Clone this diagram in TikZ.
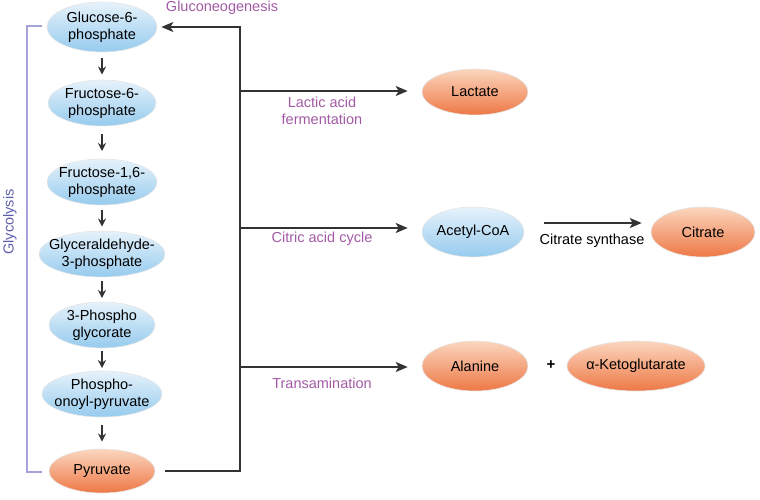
\documentclass[tikz,border=0pt]{standalone}
\usepackage{fontspec}
\setmainfont{Liberation Sans}
\usetikzlibrary{shapes.geometric,arrows.meta,calc}
\definecolor{labc}{HTML}{A35AA6}
\definecolor{glyc}{HTML}{5E5EAE}
\definecolor{brk}{HTML}{A4A4DA}
\definecolor{lnc}{HTML}{333333}
\definecolor{btop}{HTML}{E6F2FB}
\definecolor{bbot}{HTML}{96CBEE}
\definecolor{otop}{HTML}{FBD6BE}
\definecolor{obot}{HTML}{EE7846}
\tikzset{
  met/.style={ellipse, inner xsep=-30pt, inner ysep=-14pt, minimum width=#1, minimum height=46pt,
    align=center, font=\fontsize{14.5}{17}\selectfont, draw=black!10, line width=0.6pt},
  bluefill/.style={top color=btop, bottom color=bbot},
  orangefill/.style={top color=otop, bottom color=obot},
  sarrow/.style={draw=lnc, line width=1.4pt, -{Stealth[length=8pt,width=8pt]}},
  mainarr/.style={draw=lnc, line width=2pt, -{Stealth[length=12pt,width=10pt,inset=3pt]}},
  plab/.style={text=labc, font=\fontsize{14.5}{17}\selectfont, align=center},
  txt/.style={font=\fontsize{14.5}{17}\selectfont, text=black}
}
\newcommand{\smallarrow}[2]{%
  \coordinate (m#1#2) at ($(#1.south)!0.5!(#2.north)$);
  \draw[sarrow] ($(m#1#2)+(0,-8.5)$) -- ($(m#1#2)+(0,8.5)$);}
\begin{document}
\begin{tikzpicture}[x=1pt,y=-1pt]
\useasboundingbox (0,0) rectangle (760,499);
% glycolysis column
\node[met=110pt, bluefill, minimum height=50pt] (g1) at (102,27) {Glucose-6-\\phosphate};
\node[met=108pt, bluefill] (g2) at (102,103) {Fructose-6-\\phosphate};
\node[met=110pt, bluefill] (g3) at (102,182) {Fructose-1,6-\\phosphate};
\node[met=126pt, bluefill] (g4) at (102,254) {Glyceraldehyde-\\3-phosphate};
\node[met=106pt, bluefill] (g5) at (102,325) {3-Phospho\\glycorate};
\node[met=120pt, bluefill] (g6) at (102,394) {Phospho-\\onoyl-pyruvate};
\node[met=106pt, orangefill, minimum height=44pt] (pyr) at (102,471) {Pyruvate};
\smallarrow{g1}{g2}
\smallarrow{g2}{g3}
\smallarrow{g3}{g4}
\smallarrow{g4}{g5}
\smallarrow{g5}{g6}
\smallarrow{g6}{pyr}
% glycolysis bracket
\coordinate (bt1) at (42,26);
\coordinate (bt0) at (27,26);
\coordinate (bb0) at (27,472);
\coordinate (bb1) at (42,472);
\draw[brk, line width=1.5pt] (bt1) -- (bt0) -- (bb0) -- (bb1);
\node[text=glyc, font=\fontsize{14.5}{17}\selectfont, rotate=90] (glab) at (10,222) {Glycolysis};
% main connector
\coordinate (jb) at (240,471);
\coordinate (jt) at (240,27);
\draw[mainarr, shorten <=10pt, shorten >=4pt] (pyr.east) -- (jb) -- (jt) -- (g1.east);
% right side nodes
\node[met=106pt, orangefill, minimum height=46pt] (lac) at (475,92) {Lactate};
\node[met=102pt, bluefill, minimum height=50pt] (acc) at (473,232) {Acetyl-CoA};
\node[met=104pt, orangefill, minimum height=50pt] (cit) at (703,232) {Citrate};
\node[met=106pt, orangefill, minimum height=50pt] (ala) at (475,366) {Alanine};
\node[met=138pt, orangefill, minimum height=50pt] (akg) at (636,366) {α-Ketoglutarate};
\coordinate (j1) at (240,91);
\coordinate (j2) at (240,228);
\coordinate (j3) at (240,367);
\draw[mainarr, shorten >=14pt] (j1) -- (lac.west |- j1);
\draw[mainarr, shorten >=14pt] (j2) -- (acc.west |- j2);
\draw[mainarr, shorten >=14pt] (j3) -- (ala.west |- j3);
\draw[mainarr, line width=1.8pt, shorten <=20pt, shorten >=9pt] (acc.east |- 0,223) -- (cit.west |- 0,223);
\node[txt] (cs) at (592,241) {Citrate synthase};
\node[txt, font=\bfseries\fontsize{15}{16}\selectfont] (plus) at (551,365) {+};
% labels
\node[plab] (lgn) at (222,8) {Gluconeogenesis};
\node[plab] (llf) at (322,111) {Lactic acid\\fermentation};
\node[plab] (lcc) at (322,239) {Citric acid cycle};
\node[plab] (ltr) at (322,383) {Transamination};
\end{tikzpicture}
\end{document}
